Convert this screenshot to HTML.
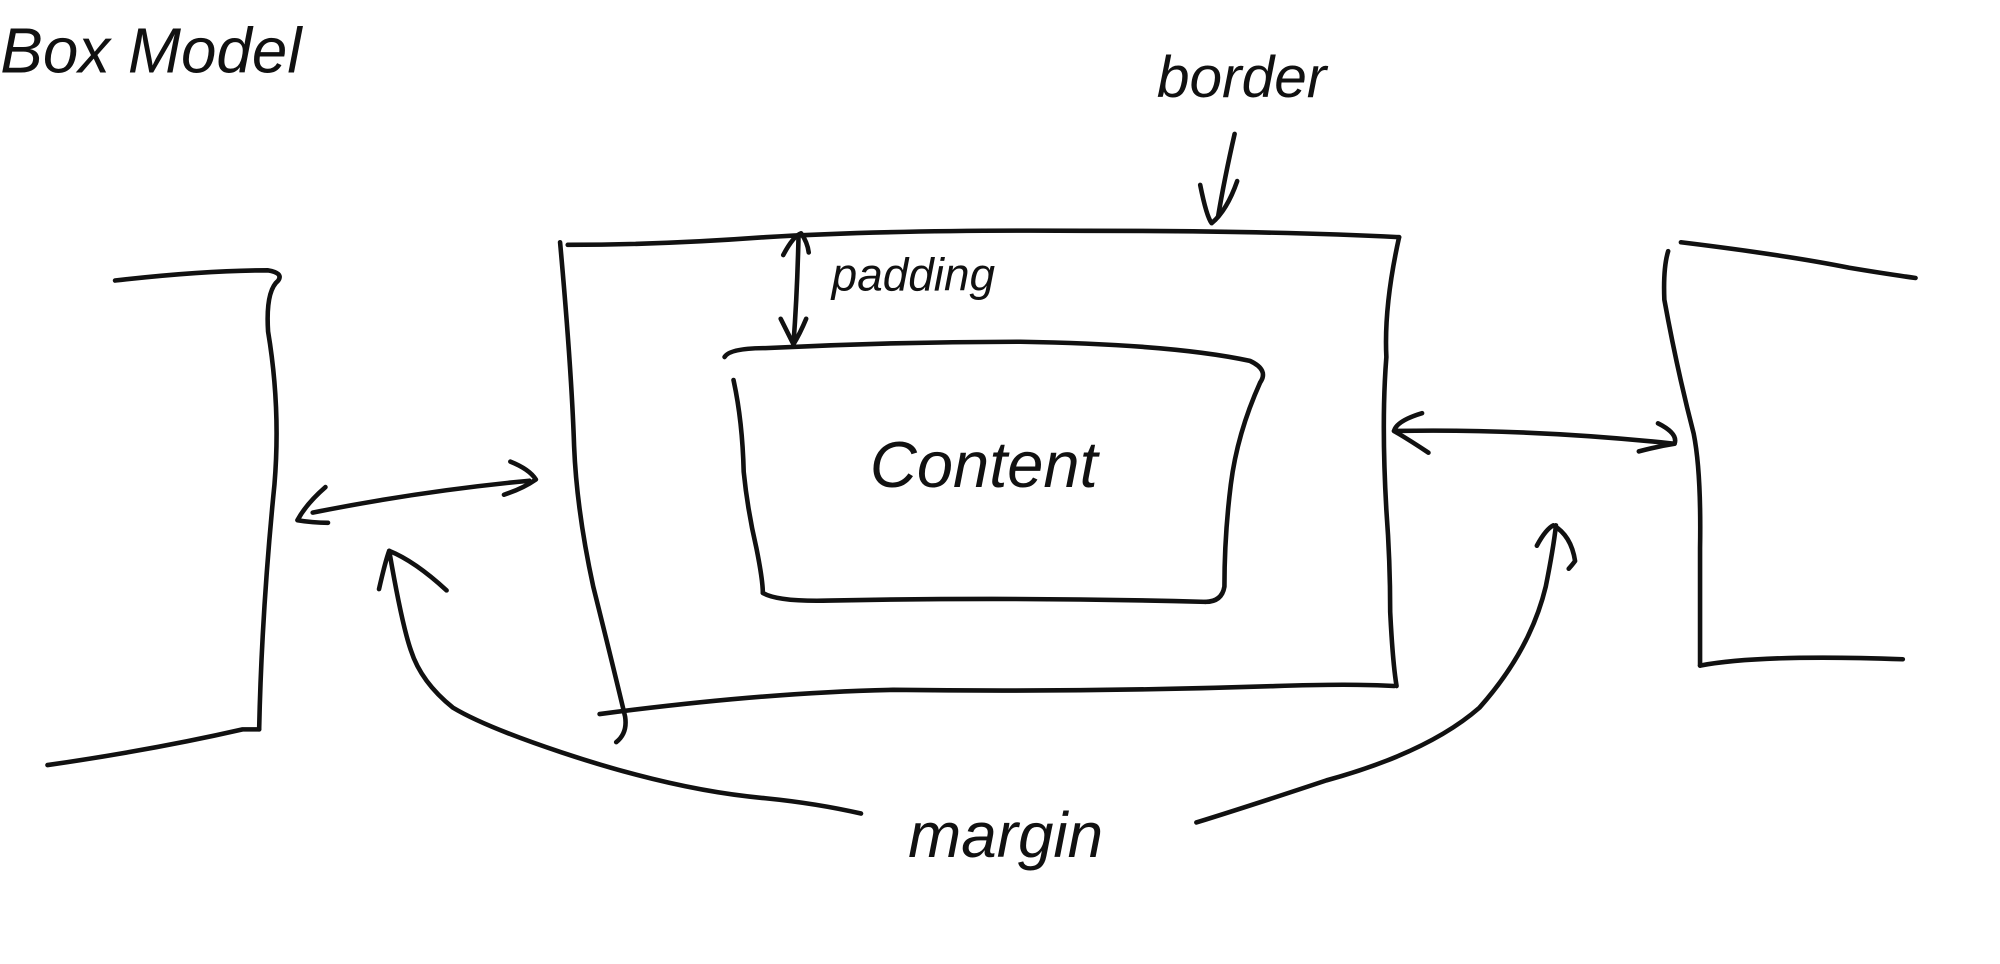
<!DOCTYPE html>
<html><head><meta charset="utf-8"><style>
html,body{margin:0;padding:0;background:#fff;width:2000px;height:964px;overflow:hidden}
svg{display:block}
text{font-family:"Liberation Sans Narrow","Liberation Sans",sans-serif;font-style:italic;fill:#111}
</style></head><body>
<svg width="2000" height="964" viewBox="0 0 1568 756" xmlns="http://www.w3.org/2000/svg">
<g fill="none" stroke="#111" stroke-width="3.6" stroke-linecap="round" stroke-linejoin="round">
<path d="M90 220 Q160 212 210 212 Q222 214 218 220 Q208 228 210 260 Q220 320 215 380 Q205 480 203 572"/>
<path d="M37 600 Q120 588 190 572 L203 572"/>
<path d="M445 192 Q520 192 600 186 Q700 180 850 181 Q1000 181 1097 186"/>
<path d="M439 190 Q448 290 450 350 Q452 400 465 460 Q480 520 490 562 Q492 575 483 582"/>
<path d="M1097 186 Q1085 240 1087 280 Q1083 330 1087 400 Q1090 440 1090 480 Q1092 520 1095 538"/>
<path d="M470 560 Q600 543 700 541 Q850 543 1000 538 Q1060 536 1093 538"/>
<path d="M626 185 Q625 230 622 270"/>
<path d="M614 200 Q622 185 628 183 Q633 190 634 198"/>
<path d="M612 250 Q618 262 622 270 Q627 262 632 250"/>
<path d="M568 280 Q572 273 600 273 Q700 268 800 268 Q920 270 980 283 Q995 290 988 300 Q970 340 965 380 Q960 420 960 460 Q958 472 945 472"/>
<path d="M575 298 Q582 330 583 370 Q586 400 593 430 Q598 455 598 465"/>
<path d="M598 465 Q610 472 650 471 Q800 468 945 472"/>
<path d="M968 105 Q960 140 955 170"/>
<path d="M941 145 Q946 170 950 175 Q962 165 970 142"/>
<path d="M245 402 Q330 385 415 377"/>
<path d="M255 382 Q240 395 233 408 Q245 410 257 410"/>
<path d="M400 362 Q415 368 420 376 Q410 383 395 388"/>
<path d="M1093 338 Q1200 336 1313 348"/>
<path d="M1115 324 Q1095 330 1093 338 Q1105 345 1120 355"/>
<path d="M1300 332 Q1316 340 1313 348 Q1300 350 1285 354"/>
<path d="M1318 190 Q1400 200 1450 210 Q1480 215 1502 218"/>
<path d="M1308 197 Q1304 210 1305 235 Q1315 290 1328 340 Q1334 370 1333 430 Q1333 480 1333 522"/>
<path d="M1333 522 Q1380 513 1492 517"/>
<path d="M675 638 Q640 630 600 626 Q530 620 440 590 Q380 570 355 555 Q330 535 322 510 Q315 490 305 432"/>
<path d="M297 462 Q302 440 305 432 Q325 440 350 463"/>
<path d="M938 645 Q980 632 1040 612 Q1120 590 1160 555 Q1200 510 1212 460 Q1218 430 1220 412"/>
<path d="M1205 428 Q1212 415 1218 412 Q1232 420 1235 440 Q1232 444 1230 446"/>
</g>
<text x="0" y="57" font-size="50">Box Model</text>
<text x="907" y="76" font-size="46">border</text>
<text x="652" y="228" font-size="36">padding</text>
<text x="682" y="382" font-size="51">Content</text>
<text x="712" y="672" font-size="50">margin</text>
</svg>
</body></html>
